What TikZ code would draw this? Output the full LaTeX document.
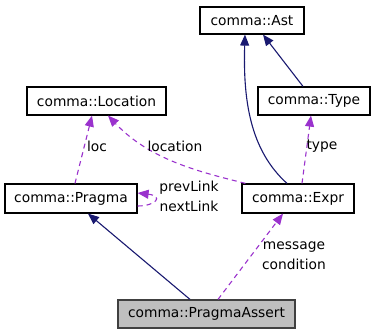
\documentclass[tikz,border=0pt]{standalone}
\usepackage{fontspec}
\setmainfont{DejaVu Sans}
\usetikzlibrary{arrows.meta,calc}
\definecolor{inhcol}{HTML}{191970}
\definecolor{depcol}{HTML}{9A32CD}
\definecolor{hlfill}{HTML}{BFBFBF}
\definecolor{hlborder}{HTML}{404040}
\begin{document}
\begin{tikzpicture}[x=1pt,y=-1pt,
  cls/.style={draw=black,fill=white,line width=1.2pt,inner sep=0pt,anchor=center,
    font=\fontsize{13.8}{16}\selectfont},
  hl/.style={cls,draw=hlborder,fill=hlfill},
  inh/.style={draw=inhcol,line width=1.1pt,-{Triangle[length=11pt,width=9pt]}},
  dep/.style={draw=depcol,line width=1.1pt,dash pattern=on 5pt off 4pt,
    -{Triangle[length=11pt,width=9pt]}},
  lbl/.style={font=\fontsize{13.8}{16}\selectfont,inner sep=0pt,anchor=center}]
\useasboundingbox (0,0) rectangle (376,333);
\node[cls,minimum width=104pt,minimum height=27pt] (ast) at (252,20.5) {comma::Ast};
\node[cls,minimum width=139pt,minimum height=28pt] (loc) at (96.5,101) {comma::Location};
\node[cls,minimum width=112pt,minimum height=28pt] (type) at (314,101) {comma::Type};
\node[cls,minimum width=132pt,minimum height=29pt] (pragma) at (71,198.5) {comma::Pragma};
\node[cls,minimum width=112pt,minimum height=29pt] (expr) at (298,198.5) {comma::Expr};
\node[hl,minimum width=177pt,minimum height=28pt] (pa) at (206.5,314) {comma::PragmaAssert};
% inheritance
\draw[inh] ($(expr.north)+(-11,0)$) .. controls (250,150) and (243,100) .. ($(ast.south)+(-7,0)$);
\draw[inh] ($(type.north)+(-11,0)$) -- ($(ast.south)+(11,0)$);
\draw[inh] ($(pa.north)+(-16.5,0)$) -- ($(pragma.south)+(17,0)$);
% usage
\draw[dep] ($(expr.north)+(4,0)$) -- ($(type.south)+(-3,0)$);
\draw[dep] ($(pragma.north)+(4,0)$) -- ($(loc.south)+(-4.5,0)$);
\draw[dep] ($(expr.north west)+(4,0)$) .. controls (200,172) and (150,160) .. ($(loc.south)+(11.5,0)$);
\draw[dep] ($(pa.north)+(11.5,0)$) -- ($(expr.south)+(-15,0)$);
\draw[dep] ($(pragma.east)+(0,7.5)$) .. controls (156,206) and (164,196) .. ($(pragma.east)+(0,-5.5)$);
% labels
\node[lbl] (lt) at (322,146) {type};
\node[lbl] (ll) at (97,146) {loc};
\node[lbl] (llo) at (175,146) {location};
\node[lbl] (lp) at (189,188) {prevLink};
\node[lbl] (ln) at (189,206) {nextLink};
\node[lbl] (lm) at (294,247) {message};
\node[lbl] (lc) at (294,264) {condition};
\end{tikzpicture}
\end{document}
